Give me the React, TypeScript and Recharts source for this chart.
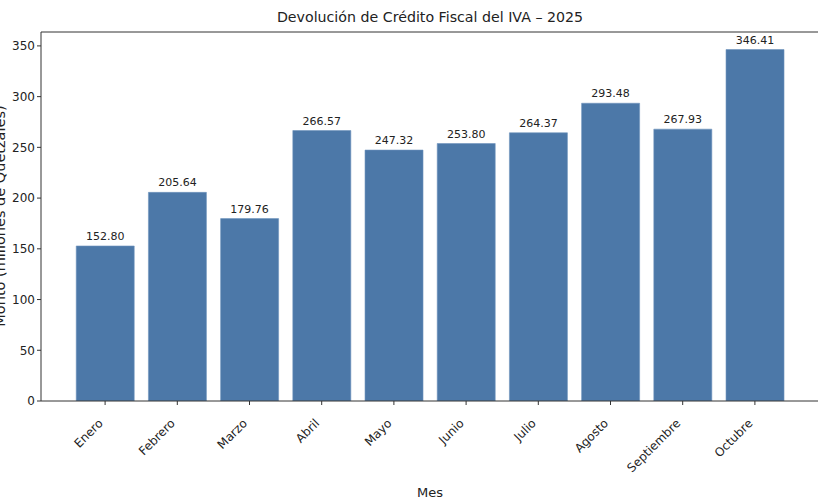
import React from "react";
import { BarChart, Bar, XAxis, YAxis, LabelList, ReferenceLine } from "recharts";

const months = ["Enero", "Febrero", "Marzo", "Abril", "Mayo", "Junio", "Julio", "Agosto", "Septiembre", "Octubre"];
const amounts = [152.8, 205.64, 179.76, 266.57, 247.32, 253.8, 264.37, 293.48, 267.93, 346.41];
const yTicks = [0, 50, 100, 150, 200, 250, 300, 350];

const data = months.map((m, i) => ({ mes: m, monto: amounts[i] }));

const FONT = "DejaVu Sans";
const YMAX = 363.7;

const XTick = (props: any) => {
  const { x, y, payload } = props;
  return (
    <g transform={`translate(${x - 1.5},${y + 17})`}>
      <text
        x={0}
        y={0}
        textAnchor="end"
        transform="rotate(-45)"
        fontFamily={FONT}
        fontSize={12}
        fill="#222"
      >
        {payload.value}
      </text>
    </g>
  );
};

export default function App() {
  return (
    <div style={{ position: "absolute", left: 0, top: 0, width: 818, height: 499, overflow: "hidden", background: "#fff" }}>
      <BarChart
        width={830}
        height={499}
        data={data}
        margin={{ top: 32, right: 11, bottom: 0, left: 0 }}
        barCategoryGap="10%"
      >
        <XAxis
          dataKey="mes"
          height={98}
          padding={{ left: 28, right: 28 }}
          tick={<XTick />}
          tickSize={4}
          tickLine={{ stroke: "#333" }}
          axisLine={{ stroke: "#333" }}
          interval={0}
        />
        <YAxis
          width={41}
          domain={[0, YMAX]}
          ticks={yTicks}
          allowDataOverflow
          tickSize={4}
          tickLine={{ stroke: "#333" }}
          axisLine={{ stroke: "#333" }}
          tick={{ fontFamily: FONT, fontSize: 12, fill: "#222" }}
        />
        <ReferenceLine y={YMAX} stroke="#333" strokeWidth={1} ifOverflow="extendDomain" />
        <Bar dataKey="monto" fill="#4C78A8" stroke="#6e93bd" strokeWidth={0.6} isAnimationActive={false}>
          <LabelList
            dataKey="monto"
            position="top"
            offset={6}
            formatter={(v: any) => Number(v).toFixed(2)}
            style={{ fontFamily: FONT, fontSize: 11, fill: "#222" }}
          />
        </Bar>
      </BarChart>
      <div
        style={{
          position: "absolute",
          left: 0,
          width: 860,
          top: 8,
          textAlign: "center",
          fontFamily: FONT,
          fontSize: 14.2,
          color: "#222",
          lineHeight: "18px",
        }}
      >
        Devolución de Crédito Fiscal del IVA – 2025
      </div>
      <div
        style={{
          position: "absolute",
          left: 0,
          width: 860,
          top: 485,
          textAlign: "center",
          fontFamily: FONT,
          fontSize: 13,
          color: "#222",
          lineHeight: "16px",
        }}
      >
        Mes
      </div>
      <div
        style={{
          position: "absolute",
          left: 0 - 150,
          top: 216 - 9,
          width: 300,
          height: 18,
          lineHeight: "18px",
          textAlign: "center",
          transform: "rotate(-90deg)",
          fontFamily: FONT,
          fontSize: 14.5,
          color: "#222",
        }}
      >
        Monto (millones de Quetzales)
      </div>
    </div>
  );
}
